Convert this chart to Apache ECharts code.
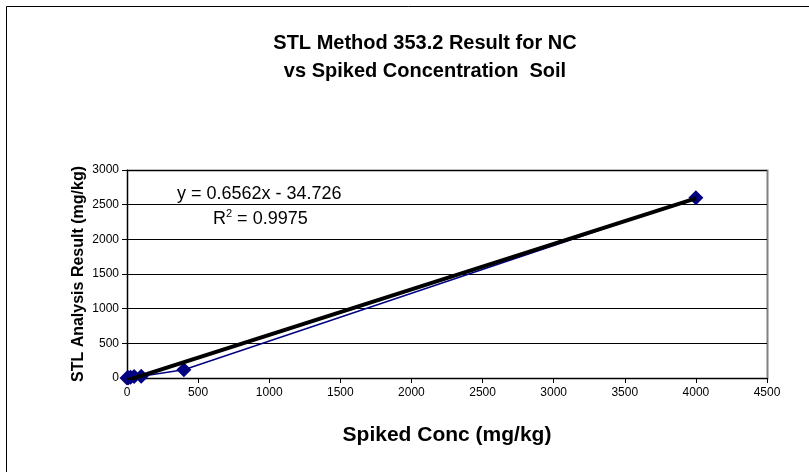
<!DOCTYPE html>
<html>
<head>
<meta charset="utf-8">
<script src="https://cdn.jsdelivr.net/npm/echarts@6/dist/echarts.min.js"></script>
<style>
  html, body { margin: 0; padding: 0; background: #fff; }
  #chart { width: 809px; height: 472px; }
</style>
</head>
<body>
<div id="chart"></div>
<script>
// spiked concentration (mg/kg) vs STL result (mg/kg)
const spikedConc = [0, 10, 25, 50, 100, 400, 4000];
const stlResult = [0, 5, 10, 20, 25, 120, 2600];

// linear trendline, as reported on the chart
const slope = 0.6562;
const intercept = -34.726;
const rSquared = '0.9975';

const points = spikedConc.map((x, i) => [x, stlResult[i]]);
const xMin = Math.min(...spikedConc);
const xMax = Math.max(...spikedConc);
const trend = [xMin, xMax].map(x => [x, slope * x + intercept]);

const font = '"Liberation Sans", Arial, sans-serif';
const chart = echarts.init(document.getElementById('chart'));

chart.setOption({
  backgroundColor: '#fff',
  animation: false,
  title: {
    text: 'STL Method 353.2 Result for NC\nvs Spiked Concentration  Soil',
    left: 420,
    top: 24,
    textAlign: 'center',
    textStyle: { fontFamily: font, fontSize: 20, fontWeight: 'bold', color: '#000', lineHeight: 28 }
  },
  grid: { left: 127, right: 42, top: 170, bottom: 94 },
  xAxis: {
    type: 'value',
    min: 0,
    max: 4500,
    interval: 500,
    name: 'Spiked Conc (mg/kg)',
    nameLocation: 'middle',
    nameGap: 47,
    nameMoveOverlap: false,
    nameTextStyle: { fontFamily: font, fontSize: 21, fontWeight: 'bold', color: '#000' },
    axisLine: { show: true, lineStyle: { color: '#000', width: 1 } },
    axisTick: { show: true, length: 5, lineStyle: { color: '#000' } },
    axisLabel: { fontFamily: font, fontSize: 12, color: '#000', margin: 9, formatter: v => String(v) },
    splitLine: { show: false }
  },
  yAxis: {
    type: 'value',
    min: 0,
    max: 3000,
    interval: 500,
    name: 'STL Analysis Result (mg/kg)',
    nameLocation: 'middle',
    nameGap: 40,
    nameMoveOverlap: false,
    nameTextStyle: { fontFamily: font, fontSize: 16, fontWeight: 'bold', color: '#000' },
    axisLine: { show: true, lineStyle: { color: '#000', width: 1 } },
    axisTick: { show: true, length: 5, lineStyle: { color: '#000' } },
    axisLabel: { fontFamily: font, fontSize: 12, color: '#000', margin: 8, formatter: v => String(v) },
    splitLine: { show: true, lineStyle: { color: '#000', width: 1 } }
  },
  graphic: [
    {
      type: 'rect',
      shape: { x: 6.5, y: 6.5, width: 830, height: 490 },
      style: { fill: null, stroke: '#000', lineWidth: 1 },
      silent: true,
      z: -1
    },
    {
      type: 'rect',
      shape: { x: 127.5, y: 170.5, width: 640, height: 208 },
      style: { fill: null, stroke: '#808080', lineWidth: 2 },
      silent: true,
      z: -1
    },
    {
      type: 'text',
      left: 177,
      top: 185,
      style: { text: 'y = 0.6562x - 34.726', font: '18px ' + font, fill: '#000' }
    },
    {
      type: 'text',
      left: 213,
      top: 208,
      style: {
        text: '{b|R}{s|2}{b| = ' + rSquared + '}',
        rich: {
          b: { fontFamily: font, fontSize: 18, color: '#000', verticalAlign: 'bottom' },
          s: { fontFamily: font, fontSize: 11, color: '#000', padding: [0, 0, 9, 0], verticalAlign: 'bottom' }
        }
      }
    }
  ],
  series: [
    {
      name: 'NC',
      type: 'line',
      data: points,
      symbol: 'diamond',
      symbolSize: 15,
      itemStyle: { color: '#000080' },
      lineStyle: { color: '#000080', width: 1.5 },
      z: 3
    },
    {
      name: 'Linear (NC)',
      type: 'line',
      data: trend,
      showSymbol: false,
      symbol: 'none',
      lineStyle: { color: '#000', width: 4 },
      z: 4
    }
  ]
});
</script>
</body>
</html>
